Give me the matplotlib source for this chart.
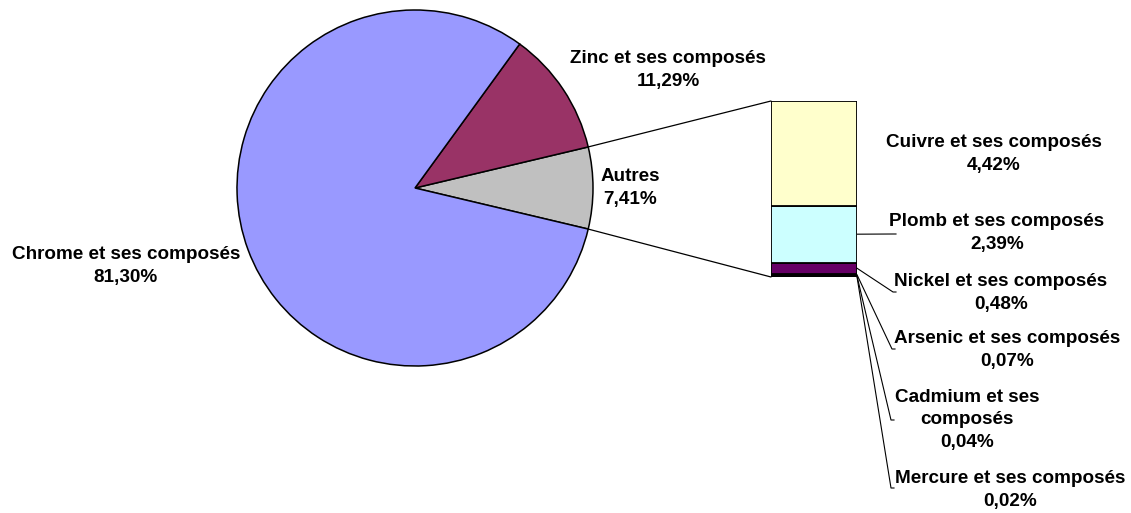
import matplotlib
matplotlib.use("Agg")
import matplotlib.pyplot as plt
from matplotlib.patches import ConnectionPatch
import numpy as np

plt.rcParams["font.family"] = ["Liberation Sans", "DejaVu Sans"]

# Main pie: share of each substance (%)
pie_labels = ["Autres", "Zinc et ses composés", "Chrome et ses composés"]
pie_values = [7.41, 11.29, 81.30]
pie_colors = ["#C0C0C0", "#993366", "#9999FF"]

# Breakdown of "Autres" (stacked bar), from bottom to top
bar_labels = ["Mercure et ses composés", "Cadmium et ses\ncomposés",
              "Arsenic et ses composés", "Nickel et ses composés",
              "Plomb et ses composés", "Cuivre et ses composés"]
bar_values = [0.02, 0.04, 0.07, 0.48, 2.39, 4.42]
bar_colors = ["#000000", "#000033", "#1A001A", "#660066", "#CCFFFF", "#FFFFCC"]

W, H = 1131, 513
fig = plt.figure(figsize=(W / 100, H / 100), dpi=100)
ax = fig.add_axes([0, 0, 1, 1])
ax.set_xlim(0, W)
ax.set_ylim(0, H)
ax.set_aspect("equal")
ax.axis("off")

cx, cy, r = 415, H - 188, 178
start = -pie_values[0] / 2 * 3.6
wedges, _ = ax.pie(pie_values, colors=pie_colors, startangle=start,
                   counterclock=True, center=(cx, cy), radius=r,
                   wedgeprops=dict(edgecolor="black", linewidth=1.1))
ax.set_xlim(0, W)
ax.set_ylim(0, H)

fs = 13.6
tkw = dict(fontsize=fs, fontweight="bold", ha="center", va="center",
           linespacing=1.45)

def fmt(v):
    return f"{v:.2f}%".replace(".", ",")

ax.text(668, H - 70, f"{pie_labels[1]}\n{fmt(pie_values[1])}", **tkw)
ax.text(630, H - 188, f"{pie_labels[0]}\n{fmt(pie_values[0])}", **tkw)
ax.text(126, H - 266, f"{pie_labels[2]}\n{fmt(pie_values[2])}", **tkw)

# Stacked bar axes
bx0, bx1, by_top, by_bot = 771, 857, 101, 277
bax = fig.add_axes([bx0 / W, (H - by_bot) / H, (bx1 - bx0) / W,
                    (by_bot - by_top) / H])
total = sum(bar_values)
bottom = 0.0
mids = []
for v, c in zip(bar_values, bar_colors):
    bax.bar(0, v, width=1.0, bottom=bottom, color=c, edgecolor="black",
            linewidth=1.3)
    mids.append(bottom + v / 2)
    bottom += v
bax.set_xlim(-0.5, 0.5)
bax.set_ylim(0, total)
bax.axis("off")

# Connector lines from the "Autres" wedge to the bar
a = np.deg2rad(pie_values[0] / 2 * 3.6)
for sgn, yb in ((1, total), (-1, 0)):
    p = (cx + r * np.cos(a), cy + sgn * r * np.sin(a))
    con = ConnectionPatch(xyA=p, coordsA=ax.transData, xyB=(-0.5, yb),
                          coordsB=bax.transData, color="black", linewidth=0.9)
    fig.add_artist(con)

# Labels for the bar segments, with leader lines
bar_text_pos = [(1010, 490), (967, 420), (1007, 350), (1001, 293),
                (997, 233), (994, 154)]
leader_end = [(891, 488), (891, 420), (892, 349), (893, 292), (893, 234), None]
for lab, v, (tx, ty), end, m in zip(bar_labels, bar_values, bar_text_pos,
                                     leader_end, mids):
    ax.text(tx, H - ty, f"{lab}\n{fmt(v)}", **tkw)
    if end is not None:
        start_pt = bax.transData.transform((0.5, m))
        start_pt = ax.transData.inverted().transform(start_pt)
        ex, ey = end
        ax.plot([start_pt[0], ex, ex + 3], [start_pt[1], H - ey, H - ey],
                color="black", linewidth=0.8, clip_on=False)

fig.savefig("out.png", dpi=100)
